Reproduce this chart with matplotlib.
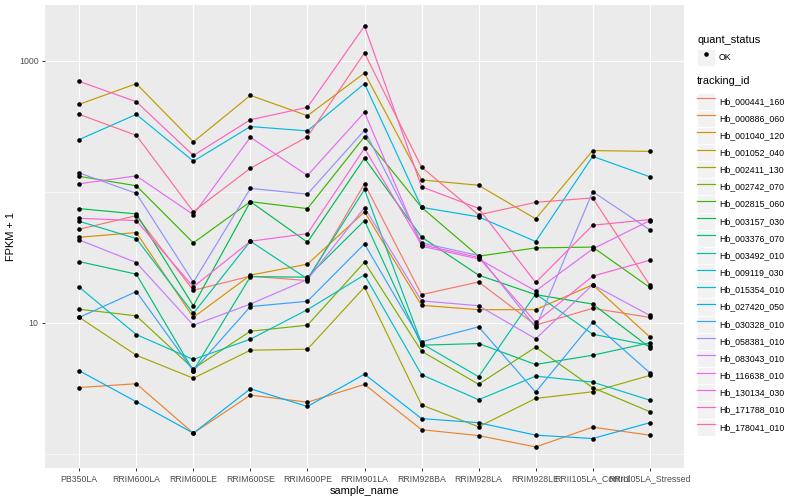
import matplotlib
matplotlib.use("Agg")
import matplotlib.pyplot as plt
import numpy as np
from matplotlib.lines import Line2D
from matplotlib.patches import Rectangle
from matplotlib.legend_handler import HandlerLine2D
from matplotlib.ticker import NullFormatter

plt.rcParams["font.family"] = ["Liberation Sans", "DejaVu Sans"]

samples = ["PB350LA", "RRIM600LA", "RRIM600LE", "RRIM600SE", "RRIM600PE",
           "RRIM901LA", "RRIM928BA", "RRIM928LA", "RRIM928LE",
           "RRII105LA_Control", "RRII105LA_Stressed"]

tracking_ids = ["Hb_000441_160", "Hb_000886_060", "Hb_001040_120", "Hb_001052_040",
                "Hb_002411_130", "Hb_002742_070", "Hb_002815_060", "Hb_003157_030",
                "Hb_003376_070", "Hb_003492_010", "Hb_009119_030", "Hb_015354_010",
                "Hb_027420_050", "Hb_030328_010", "Hb_058381_010", "Hb_083043_010",
                "Hb_116638_010", "Hb_130134_030", "Hb_171788_010", "Hb_178041_010"]

# ggplot hue palette, 20 levels
colors = ["#F8766D", "#EA8331", "#D89000", "#C09B00", "#A3A500", "#7CAE00",
          "#39B600", "#00BB4E", "#00BF7D", "#00C1A3", "#00BFC4", "#00BAE0",
          "#00B0F6", "#35A2FF", "#9590FF", "#C77CFF", "#E76BF3", "#FA62DB",
          "#FF62BC", "#FF6C91"]

# FPKM + 1, one list per gene, in sample order
hb_000441_160 = [51.7, 65.7, 17.7, 22.7, 21.0, 115, 16.4, 20.5, 9.6, 12.9, 11.0]
hb_000886_060 = [3.21, 3.43, 1.44, 2.81, 2.48, 3.39, 1.53, 1.38, 1.13, 1.60, 1.39]
hb_001040_120 = [44.9, 48.8, 11.0, 23.1, 28.0, 70.2, 13.6, 12.6, 12.6, 19.5, 7.8]
hb_001052_040 = [464, 667, 240, 543, 380, 804, 123, 112, 62.1, 206, 203]
hb_002411_130 = [11.0, 5.66, 3.78, 6.18, 6.29, 18.7, 2.36, 1.61, 2.65, 2.98, 3.97]
hb_002742_070 = [12.7, 11.3, 4.46, 8.63, 9.59, 29.0, 6.07, 3.40, 6.52, 3.20, 2.10]
hb_002815_060 = [131, 111, 40.7, 84.0, 74.3, 263, 76.0, 32.2, 37.3, 37.8, 18.6]
hb_003157_030 = [74.3, 67.7, 13.5, 84.0, 41.2, 180, 45.1, 23.1, 16.4, 13.9, 6.48]
hb_003376_070 = [29.3, 23.5, 4.31, 22.5, 22.3, 60.2, 6.75, 6.95, 4.81, 5.66, 7.04]
hb_003492_010 = [59.5, 43.9, 11.8, 41.9, 21.6, 104, 6.95, 3.88, 16.6, 8.19, 6.71]
hb_009119_030 = [18.7, 8.14, 5.25, 7.50, 12.6, 23.2, 4.02, 2.59, 3.92, 3.53, 2.57]
hb_015354_010 = [250, 389, 171, 314, 291, 667, 76.0, 64.3, 41.7, 186, 130]
hb_027420_050 = [4.31, 2.50, 1.44, 3.14, 2.30, 4.06, 1.86, 1.73, 1.39, 1.31, 1.73]
hb_030328_010 = [11.0, 17.3, 4.31, 13.3, 14.6, 40.0, 7.17, 9.32, 2.96, 10.1, 4.16]
hb_058381_010 = [139, 97.2, 20.4, 106, 95.9, 294, 40.7, 32.6, 9.21, 100, 51.2]
hb_083043_010 = [42.9, 28.8, 9.59, 13.9, 21.4, 75.6, 14.7, 13.5, 7.55, 19.5, 11.4]
hb_116638_010 = [115, 132, 66.9, 260, 133, 403, 38.4, 30.7, 17.5, 36.6, 60.2]
hb_130134_030 = [62.7, 60.2, 18.8, 41.9, 47.9, 214, 39.5, 31.5, 10.1, 22.7, 30.0]
hb_171788_010 = [694, 486, 189, 354, 440, 1835, 109, 74.7, 20.3, 55.5, 61.3]
hb_178041_010 = [389, 269, 70.5, 151, 263, 1143, 154, 66.6, 83.0, 89.7, 19.4]

series = [hb_000441_160, hb_000886_060, hb_001040_120, hb_001052_040,
          hb_002411_130, hb_002742_070, hb_002815_060, hb_003157_030,
          hb_003376_070, hb_003492_010, hb_009119_030, hb_015354_010,
          hb_027420_050, hb_030328_010, hb_058381_010, hb_083043_010,
          hb_116638_010, hb_130134_030, hb_171788_010, hb_178041_010]


class KeyBox(HandlerLine2D):
    """legend key drawn on a grey square, as ggplot does"""
    def create_artists(self, legend, orig_handle, xdescent, ydescent,
                       width, height, fontsize, trans):
        arts = super().create_artists(legend, orig_handle, xdescent, ydescent,
                                      width, height, fontsize, trans)
        bg = Rectangle((-xdescent, -ydescent), width, height, facecolor="#F2F2F2",
                       edgecolor="white", lw=0.6, transform=trans)
        return [bg] + list(arts)


fig = plt.figure(figsize=(8, 5), dpi=100)
ax = fig.add_axes([45 / 800, 1 - 468 / 500, (684 - 45) / 800, (468 - 5) / 500])
ax.set_facecolor("#EBEBEB")

x = np.arange(len(samples))
for vals, col in zip(series, colors):
    ax.plot(x, vals, color=col, lw=0.85, zorder=2)
for vals in series:
    ax.plot(x, vals, "o", color="black", ms=3.3, mew=0, zorder=3)

ax.set_yscale("log")
allv = np.concatenate([np.asarray(s, float) for s in series])
lo, hi = np.log10(allv.min()), np.log10(allv.max())
pad = 0.05 * (hi - lo)
ax.set_ylim(10 ** (lo - pad), 10 ** (hi + pad))
ax.set_xlim(-0.6, len(samples) - 0.4)

ax.set_yticks([10, 1000])
ax.set_yticklabels(["10", "1000"])
ax.set_yticks([1, 100], minor=True)
ax.yaxis.set_minor_formatter(NullFormatter())
ax.set_xticks(x)
ax.set_xticklabels(samples)

ax.set_axisbelow(True)
ax.grid(which="major", color="white", lw=0.8)
ax.grid(which="minor", axis="y", color="white", lw=0.4)
ax.tick_params(which="minor", length=0)
ax.tick_params(which="major", length=2.2, width=0.7, color="#333333",
               labelcolor="#4D4D4D", labelsize=6.3, pad=2.5)
for s in ax.spines.values():
    s.set_visible(False)

ax.set_xlabel("sample_name", fontsize=7.9, labelpad=1.5)
ax.set_ylabel("FPKM + 1", fontsize=7.9, labelpad=2)

# legends: titles as text, keys as ggplot-like grey squares
key_kw = dict(loc="upper left", frameon=False, fontsize=6.3,
              handlelength=2.0, handleheight=2.64, handletextpad=0.5,
              labelspacing=0.0, borderpad=0, borderaxespad=0,
              handler_map={Line2D: KeyBox()})

fig.text(697 / 800, 1 - 40 / 500, "quant_status", fontsize=7.9, va="center", ha="left")
status_handle = [Line2D([], [], marker="o", color="black", ls="none", ms=3.3, mew=0)]
fig.legend(status_handle, ["OK"], bbox_to_anchor=(697 / 800, 1 - 48.5 / 500), **key_kw)

fig.text(697 / 800, 1 - 81 / 500, "tracking_id", fontsize=7.9, va="center", ha="left")
id_handles = [Line2D([], [], color=c, lw=0.85) for c in colors]
fig.legend(id_handles, tracking_ids, bbox_to_anchor=(697 / 800, 1 - 92.5 / 500), **key_kw)

fig.savefig("out.png", dpi=100)
